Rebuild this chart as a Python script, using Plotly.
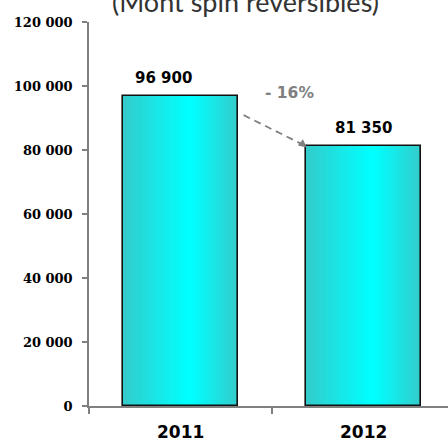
import plotly.graph_objects as go

years = ["2011", "2012"]
values = [96900, 81350]
value_labels = ["96 900", "81 350"]
y_ticks = [0, 20000, 40000, 60000, 80000, 100000, 120000]
y_ticktext = ["0", "20 000", "40 000", "60 000", "80 000", "100 000", "120 000"]
change_label = "- 16%"
title_text = "(Mont spin reversibles)"

xpos = list(range(len(years)))
W = 0.63
N = 24
c_edge = (0x33, 0xCC, 0xCC)
c_mid = (0x00, 0xFF, 0xFF)
peak = 0.58

fig = go.Figure()
for i in range(N):
    t = i / (N - 1)
    col = "rgb(%d,%d,%d)" % tuple(round(c_edge[k] + (c_mid[k] - c_edge[k]) * t) for k in range(3))
    w = W * (N - i) / N
    center_off = (peak - 0.5) * W * (i / N)
    fig.add_trace(go.Bar(
        x=xpos, y=values, width=w, offset=center_off - w / 2,
        marker=dict(color=col, line=dict(width=0)),
        hoverinfo="skip", showlegend=False))

fig.add_trace(go.Bar(
    x=xpos, y=values, width=W, offset=-W / 2,
    marker=dict(color="rgba(0,0,0,0)", line=dict(color="#111111", width=1.6)),
    showlegend=False))

# dashed connector between bars
x0 = xpos[0] + W / 2 + 0.03
y0 = values[0] - 6000
x1 = xpos[1] - W / 2 + 0.005
y1 = values[1] - 600
fig.add_shape(type="line", x0=x0, y0=y0, x1=x1 - 0.02, y1=y1 + 900,
              line=dict(color="#808080", width=1.8, dash="7px,5px"))

annotations = []
xshifts = [-17, 0]
for i, (v, lab) in enumerate(zip(values, value_labels)):
    annotations.append(dict(x=xpos[i], y=v, text="<b>%s</b>" % lab, showarrow=False,
                            yanchor="bottom", yshift=7, xshift=xshifts[i],
                            font=dict(family="DejaVu Sans", size=15, color="#000000")))

annotations.append(dict(x=x1, y=y1, ax=x1 - 0.03, ay=y1 + 1400,
                        xref="x", yref="y", axref="x", ayref="y",
                        showarrow=True, arrowhead=2, arrowsize=1.1, arrowwidth=1.5,
                        arrowcolor="#808080", text=""))
annotations.append(dict(x=0.5 + 0.095, y=values[0] + 1000, text="<b>%s</b>" % change_label,
                        showarrow=False, yanchor="middle",
                        font=dict(family="DejaVu Sans", size=15.5, color="#808080")))
annotations.append(dict(x=0.435, xref="paper", y=1.004, yref="paper", text=title_text,
                        showarrow=False, yanchor="bottom",
                        font=dict(family="Lato", size=27, color="#333333")))
for i, yr in enumerate(years):
    annotations.append(dict(x=xpos[i], y=0, yref="y", text="<b>%s</b>" % yr, showarrow=False,
                            yanchor="top", yshift=-14,
                            font=dict(family="DejaVu Sans", size=17, color="#000000")))

fig.update_layout(
    width=448, height=441,
    margin=dict(l=89, r=0, t=22, b=35, autoexpand=False),
    paper_bgcolor="white", plot_bgcolor="white",
    barmode="overlay", bargap=0,
    annotations=annotations,
    xaxis=dict(range=[-0.5, 1.462], showgrid=False, zeroline=False, automargin=False,
               showline=True, linecolor="#808080", linewidth=1.5,
               tickmode="array", tickvals=[-0.5, 0.5, 1.5], ticktext=["", "", ""],
               ticks="outside", ticklen=6, tickcolor="#808080", tickwidth=1.5),
    yaxis=dict(range=[0, 120000], showgrid=False, zeroline=False, automargin=False,
               showline=True, linecolor="#808080", linewidth=1.5,
               tickmode="array", tickvals=y_ticks, ticktext=["<b>%s</b>" % t for t in y_ticktext],
               ticks="outside", ticklen=5, tickcolor="#808080", tickwidth=1.5,
               ticklabelstandoff=7,
               tickfont=dict(family="DejaVu Serif", size=13, color="#000000")),
)

fig.write_html("out.html", config={"displayModeBar": False},
               post_script="document.body.style.margin='0';document.body.style.overflow='hidden';")
